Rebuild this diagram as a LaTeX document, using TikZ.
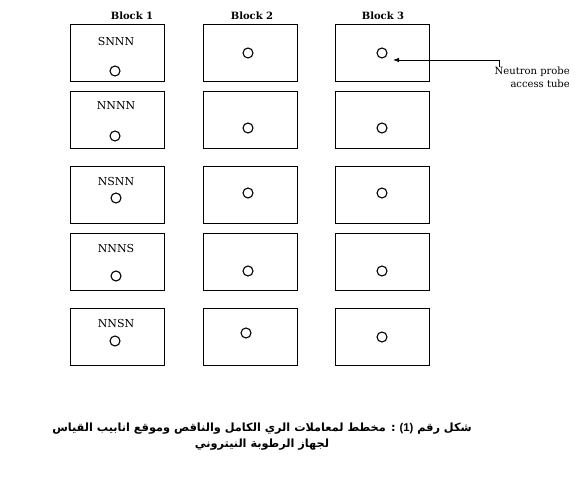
\documentclass[tikz,border=0pt]{standalone}
\usepackage{fontspec}
\setmainfont{DejaVu Serif}
\newfontfamily\arabicfont[Script=Arabic]{DejaVu Sans}
\newfontfamily\numfont{Liberation Sans}
\TeXXeTstate=1
\usetikzlibrary{positioning}
\usetikzlibrary{arrows.meta}

\tikzset{
  plotbox/.style={draw, line width=0.8pt, minimum width=94pt, minimum height=57pt, inner sep=0pt, outer sep=0pt},
  tubecirc/.style={circle, draw, line width=1.1pt, minimum size=10pt, inner sep=0pt},
  treat/.style={font=\fontsize{11}{13}\selectfont},
  blockhead/.style={font=\fontsize{10}{12}\selectfont\bfseries},
  probe/.style={line width=0.8pt, -{Latex[length=6pt,width=4.5pt]}},
}

\begin{document}
\begin{tikzpicture}[x=1pt, y=-1pt]
    \useasboundingbox (0,0) rectangle (581,486);

    \node[plotbox] (b11) at (117,52.5) {};
    \node[plotbox, right=39pt of b11] (b12) {};
    \node[plotbox, right=38pt of b12] (b13) {};

    \node[plotbox, below=10pt of b11] (b21) {};
    \node[plotbox, below=10pt of b12] (b22) {};
    \node[plotbox, below=10pt of b13] (b23) {};

    \node[plotbox, below=18pt of b21] (b31) {};
    \node[plotbox, below=18pt of b22] (b32) {};
    \node[plotbox, below=18pt of b23] (b33) {};

    \node[plotbox, below=10pt of b31] (b41) {};
    \node[plotbox, below=10pt of b32] (b42) {};
    \node[plotbox, below=10pt of b33] (b43) {};

    \node[plotbox, below=18pt of b41] (b51) {};
    \node[plotbox, below=18pt of b42] (b52) {};
    \node[plotbox, below=18pt of b43] (b53) {};

    \node[blockhead, above=1pt of b11, xshift=15pt] (h1) {Block 1};
    \node[blockhead, above=1pt of b12, xshift=2pt] (h2) {Block 2};
    \node[blockhead, above=1pt of b13, xshift=1pt] (h3) {Block 3};

    \node[treat] (l1) at (116,41) {SNNN};
    \node[treat] (l2) at (116,106) {NNNN};
    \node[treat] (l3) at (116,181) {NSNN};
    \node[treat] (l4) at (116,248) {NNNS};
    \node[treat] (l5) at (116,323) {NNSN};

    \node[tubecirc] (t11) at (115,71) {};
    \node[tubecirc] (t21) at (115,136) {};
    \node[tubecirc] (t31) at (116,198) {};
    \node[tubecirc] (t41) at (116,276) {};
    \node[tubecirc] (t51) at (115,341) {};

    \node[tubecirc] (t12) at (248,53) {};
    \node[tubecirc] (t22) at (248,128) {};
    \node[tubecirc] (t32) at (248,193) {};
    \node[tubecirc] (t42) at (248,271) {};
    \node[tubecirc] (t52) at (246,333) {};

    \node[tubecirc] (t13) at (382,53) {};
    \node[tubecirc] (t23) at (382,128) {};
    \node[tubecirc] (t33) at (382,193) {};
    \node[tubecirc] (t43) at (382,271) {};
    \node[tubecirc] (t53) at (382,337) {};

    \node[font=\fontsize{10}{13}\selectfont, align=right, inner sep=0pt, anchor=north east] (note) at (570,67) {Neutron probe\\access tube};
    \coordinate (tip) at (393,60);
    \draw[probe] ([xshift=5pt]note.north west) |- (tip);

    \node[font=\fontsize{11.3}{16}\selectfont\arabicfont\bfseries, align=center] (cap) at (262,437)
      {\beginR شكل رقم \beginL{\numfont\bfseries (1)}\endL{} : مخطط لمعاملات الري الكامل والناقص وموقع انابيب القياس\endR\\
       \beginR لجهاز الرطوبة النيتروني\endR};
\end{tikzpicture}
\end{document}
